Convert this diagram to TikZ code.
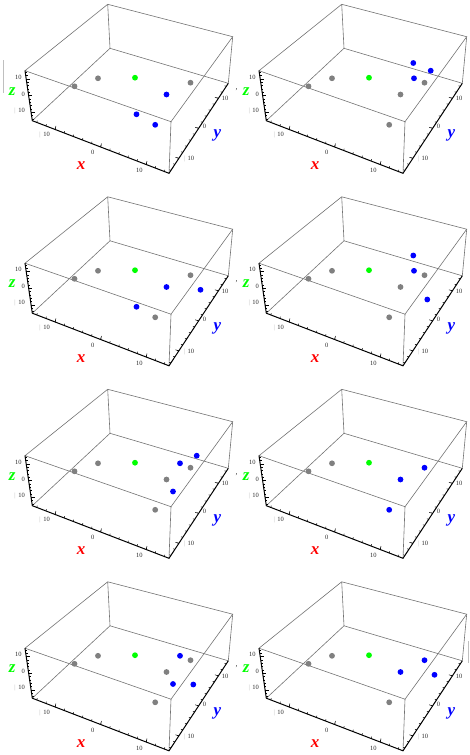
\documentclass[tikz,border=0pt]{standalone}
\usepackage{fontspec}
\setmainfont{Liberation Serif}
\usepackage{xcolor}
\usetikzlibrary{calc}

\definecolor{mred}{rgb}{1,0,0}
\definecolor{mgreen}{rgb}{0,1,0}
\definecolor{mblue}{rgb}{0,0,1}
\definecolor{mgray}{rgb}{0.5,0.5,0.5}

\begin{document}
\begin{tikzpicture}[x=1pt, y=-1pt,
  boxedge/.style={black!55, line width=0.6pt},
  axisline/.style={black, line width=1pt},
  tickmark/.style={black, line width=0.5pt},
  ticklabel/.style={font=\fontsize{6.5}{6.5}\selectfont, text=gray!35!black, inner sep=0pt},
  axislabel/.style={font=\fontsize{17}{17}\selectfont\bfseries\itshape, inner sep=0pt},
  listmark/.style={gray!50, line width=0.5pt},
  sep/.style={font=\fontsize{8}{8}\selectfont, text=gray!40!black, inner sep=0pt}]
\useasboundingbox (0,0) rectangle (470,755);

% list brackets and separators
\draw[listmark] (3.3,60) -- (3.3,93);
\draw[listmark] (468.3,641) -- (468.3,663);
\foreach \r in {0,...,3}
\node[sep] at (236.5,89.5+192.5*\r) {,};

\foreach \c/\r/\gl/\bl in {
  0/0/{a,b,d}/{e,f,g},
  1/0/{a,b,d,e,g}/{h,i,j},
  0/1/{a,b,d,g}/{e,k,f},
  1/1/{a,b,d,e,g}/{h,j,l},
  0/2/{a,b,d,e,g}/{i,j,m},
  1/2/{a,b}/{d,e,g},
  0/3/{a,b,d,e,g}/{j,m,l},
  1/3/{a,b,g}/{d,e,k}}
{
\begin{scope}[shift={(234*\c,192.5*\r)}]
% box corners
\coordinate (tb) at (107.7,4.3);
\coordinate (tr) at (232.7,36.7);
\coordinate (tf) at (171,121.7);
\coordinate (tl) at (25,70.7);
\coordinate (bb) at (110,48.3);
\coordinate (br) at (228.3,83.3);
\coordinate (bf) at (169,173.3);
\coordinate (bl) at (32.3,120.7);

\draw[boxedge] (tb) -- (tr) -- (tf) -- (tl) -- cycle;
\draw[boxedge] (tb) -- (bb) -- (br) -- (tr);
\draw[boxedge] (bb) -- (bl);
\draw[boxedge] (tf) -- (bf);
\draw[axisline] (tl) -- (bl) -- (bf) -- (br);

% ticks
\foreach \v in {-14,-12,...,14}
{
\draw[tickmark] ($(bl)!{(\v+15)/30}!(bf)$) -- ++(0.4,-1.8);
\draw[tickmark] ($(bf)!{(\v+15)/30}!(br)$) -- ++(-1.8,-0.5);
\draw[tickmark] ($(tl)!{(15-\v)/30}!(bl)$) -- ++(1.8,0);
}
\foreach \v in {-10,0,10}
{
\draw[tickmark] ($(bl)!{(\v+15)/30}!(bf)$) -- ++(0.8,-3.5);
\draw[tickmark] ($(bf)!{(\v+15)/30}!(br)$) -- ++(-3.5,-1);
\draw[tickmark] ($(tl)!{(15-\v)/30}!(bl)$) -- ++(3.5,0);
}

% tick labels
\node[ticklabel] at (18.3,77.2) {10};
\node[ticklabel] at (23.3,94.3) {0};
\node[ticklabel, anchor=east] at (25,110.7) {{\color{gray!55}|}\hspace{2.5pt}10};
\node[ticklabel, anchor=east] at (50,135) {{\color{gray!55}|}\hspace{2.5pt}10};
\node[ticklabel] at (92.7,152.7) {0};
\node[ticklabel] at (139.3,170.7) {10};
\node[ticklabel, anchor=east] at (194.3,159) {{\color{gray!55}|}\hspace{2.5pt}10};
\node[ticklabel] at (204.5,126.7) {0};
\node[ticklabel] at (225,98.5) {10};

% axis labels
\node[axislabel, text=mred] (xlab) at (81,165.7) {x};
\node[axislabel, text=mblue] (ylab) at (217.5,135.8) {y};
\node[axislabel, text=mgreen] (zlab) at (12.2,91.2) {z};

% points
\coordinate (a) at (74.5,86.3);
\coordinate (b) at (98,78.3);
\coordinate (c) at (135,77.7);
\coordinate (d) at (190.5,82.7);
\coordinate (e) at (166.5,94.5);
\coordinate (f) at (136.5,114.3);
\coordinate (g) at (155.2,124.8);
\coordinate (h) at (179.3,63);
\coordinate (i) at (196.7,70.7);
\coordinate (j) at (180,78.3);
\coordinate (k) at (200.5,97.3);
\coordinate (l) at (193.3,107);
\coordinate (m) at (173,106.5);

\foreach \p in \gl
\fill[mgray] (\p) circle (2.9pt);
\fill[mgreen] (c) circle (2.9pt);
\foreach \p in \bl
\fill[mblue] (\p) circle (2.9pt);
\end{scope}
}
\end{tikzpicture}
\end{document}
